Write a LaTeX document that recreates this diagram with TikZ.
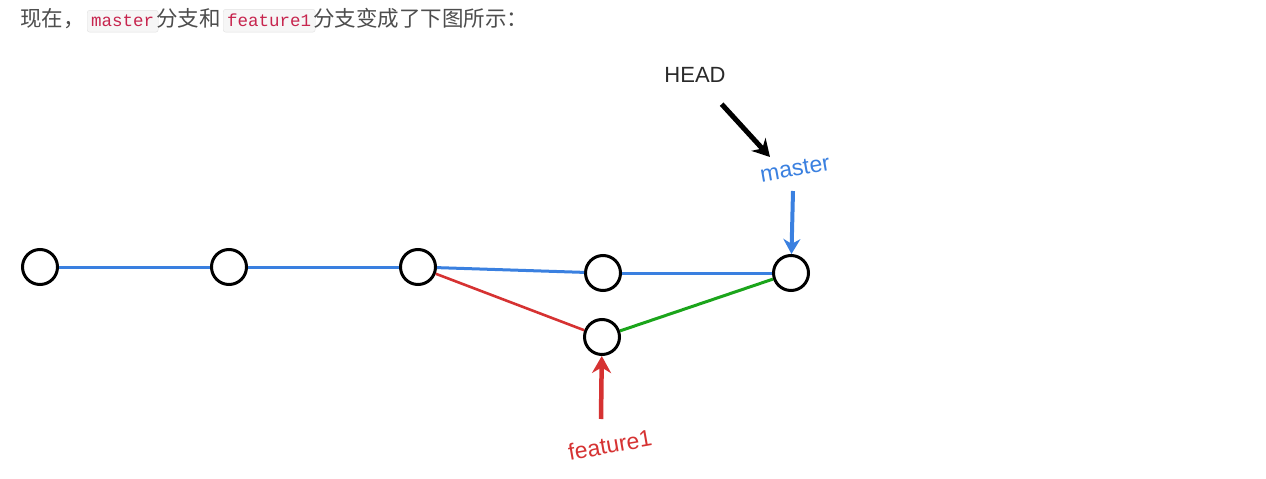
\documentclass[tikz,border=0pt]{standalone}
\usepackage{fontspec}
\setmainfont{Liberation Sans}
\setmonofont{Liberation Mono}
\newfontfamily\cjk{Noto Sans CJK SC}
\usetikzlibrary{positioning,arrows.meta}
\definecolor{txtgrey}{HTML}{4D4D4D}
\definecolor{codered}{HTML}{C7254E}
\definecolor{codebg}{HTML}{F6F6F6}
\definecolor{codeline}{HTML}{E3E3E3}
\definecolor{gitblue}{HTML}{3A80E0}
\definecolor{gitred}{HTML}{D63232}
\definecolor{gitgreen}{HTML}{1BA51B}
\definecolor{headgrey}{HTML}{2A2A2A}
\tikzset{
  commit/.style   = {circle, draw=black, line width=3pt, minimum size=35pt, inner sep=0pt, fill=white},
  para/.style     = {anchor=base west, inner sep=0pt, font=\cjk\fontsize{21.5}{21.5}\selectfont, text=txtgrey},
  code/.style     = {anchor=base west, rounded corners=2.5pt, draw=codeline, fill=codebg, text=codered,
                     font=\ttfamily\fontsize{17.5}{17.5}\selectfont, inner xsep=4pt, inner ysep=5pt},
  refname/.style  = {font=\fontsize{22}{22}\selectfont, inner sep=0pt},
  mainline/.style = {draw=gitblue, line width=3pt},
  featline/.style = {draw=gitred, line width=2.6pt},
  mergeline/.style= {draw=gitgreen, line width=3pt},
  ptr/.style      = {-{Stealth[length=17pt,width=19pt]}, line width=5pt},
}
\begin{document}
\begin{tikzpicture}[x=1pt,y=-1pt]
  \useasboundingbox[fill=white] (0,0) rectangle (1266,479);

  % caption line above the graph
  \node[para] (t1) at (20,27) {现在，};
  \node[code] (t2) at (87,27) {master};
  \node[para] (t3) at (156,27) {分支和};
  \node[code] (t4) at (223,27) {feature1};
  \node[para] (t5) at (313,27) {分支变成了下图所示：};

  % commits
  \node[commit] (c1) at (40,267) {};
  \node[commit] (c2) at (229,267) {};
  \node[commit] (c3) at (418,267) {};
  \node[commit] (c4) at (603,273) {};
  \node[commit] (c5) at (602,337) {};
  \node[commit] (c6) at (791,273) {};

  \draw[mainline] (c1) -- (c2);
  \draw[mainline] (c2) -- (c3);
  \draw[mainline] (c3) -- (c4);
  \draw[mainline] (c4) -- (c6);
  \draw[featline] (c3) -- (c5);
  \draw[mergeline] (c5) -- (c6);

  % branch pointers
  \node[refname, text=headgrey] (head) at (695,75) {HEAD};
  \node[refname, text=gitblue, rotate=10, font=\fontsize{23}{23}\selectfont] (master) at (795,169) {master};
  \node[refname, text=gitred, rotate=10, font=\fontsize{23}{23}\selectfont] (feature) at (610,445) {feature1};
  \coordinate (headtip) at (770,157);
  \coordinate (mtail) at (793,191);
  \coordinate (ftail) at (601,419);

  \draw[ptr, draw=black, shorten <=29pt] (head) -- (headtip);
  \draw[ptr, draw=gitblue, line width=4pt, -{Stealth[length=15pt,width=17pt]}] (mtail) -- (c6);
  \draw[ptr, draw=gitred, line width=4.5pt] (ftail) -- (c5);
\end{tikzpicture}
\end{document}
